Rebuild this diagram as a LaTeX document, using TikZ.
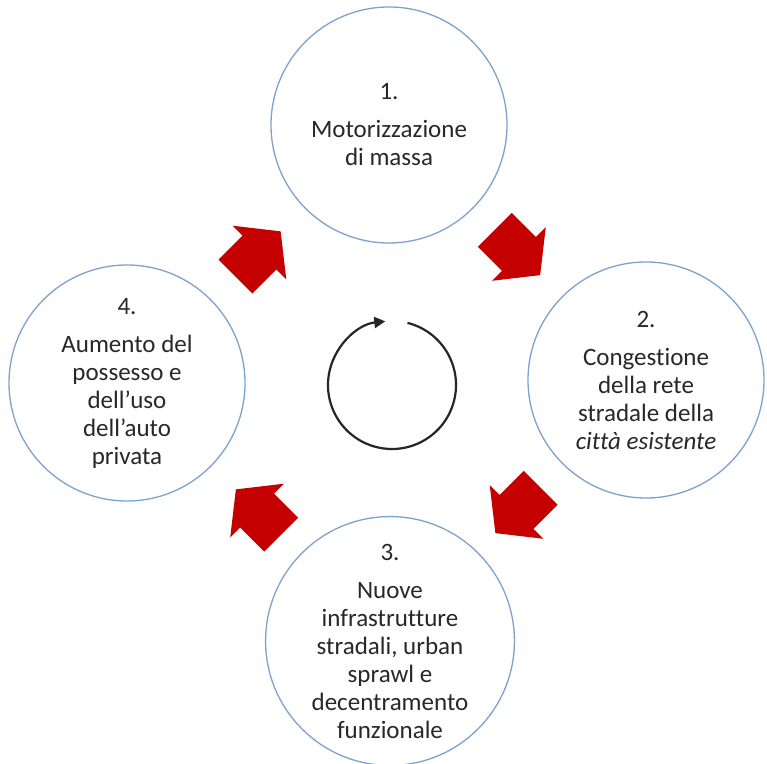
\documentclass[tikz,border=0pt]{standalone}
\usepackage{fontspec}
\setmainfont[RawFeature={-liga;-dlig}]{Carlito}
\usetikzlibrary{calc,arrows.meta}
\definecolor{ringblue}{RGB}{125,162,205}
\definecolor{arrowred}{RGB}{196,0,0}
\definecolor{txtgray}{RGB}{40,40,40}
\tikzset{
  stage/.style={circle, draw=ringblue, line width=1.3pt, fill=white, minimum size=236pt, inner sep=0pt,
    align=center, text=txtgray, font=\fontsize{25}{28}\selectfont},
  blockarrow/.pic={\fill[arrowred] (-32pt,-24pt) -- (2pt,-24pt) -- (2pt,-38pt) -- (32pt,0pt) -- (2pt,38pt) -- (2pt,24pt) -- (-32pt,24pt) -- cycle;},
  cycarrow/.style={line width=2.2pt, black!85, -{Triangle[length=11pt,width=11pt]}}
}
\begin{document}
\begin{tikzpicture}[x=1pt,y=1pt]
\useasboundingbox[fill=white] (0,0) rectangle (767,763);
\node[stage] (c1) at (389,638) {1.\\[10pt]Motorizzazione\\di massa};
\node[stage] (c2) at (646,383) {2.\\[10pt]Congestione\\della rete\\stradale della\\\textit{città esistente}};
\node[stage] (c3) at (390,122) {3.\\[10pt]Nuove\\infrastrutture\\stradali, urban\\sprawl e\\decentramento\\funzionale};
\node[stage] (c4) at (127,380) {4.\\[10pt]Aumento del\\possesso e\\dell’uso\\dell’auto\\privata};
\path ($(c1.center)!0.5!(c2.center)$) pic[rotate=-45] {blockarrow};
\path ($(c2.center)!0.5!(c3.center)$) pic[rotate=-135] {blockarrow};
\path ($(c3.center)!0.5!(c4.center)$) pic[rotate=135] {blockarrow};
\path ($(c4.center)!0.5!(c1.center)$) pic[rotate=45] {blockarrow};
\coordinate (cyc) at (392,378);
\draw[cycarrow] ($(cyc)+(76:64pt)$) arc[start angle=76, end angle=-264, radius=64pt];
\end{tikzpicture}
\end{document}
